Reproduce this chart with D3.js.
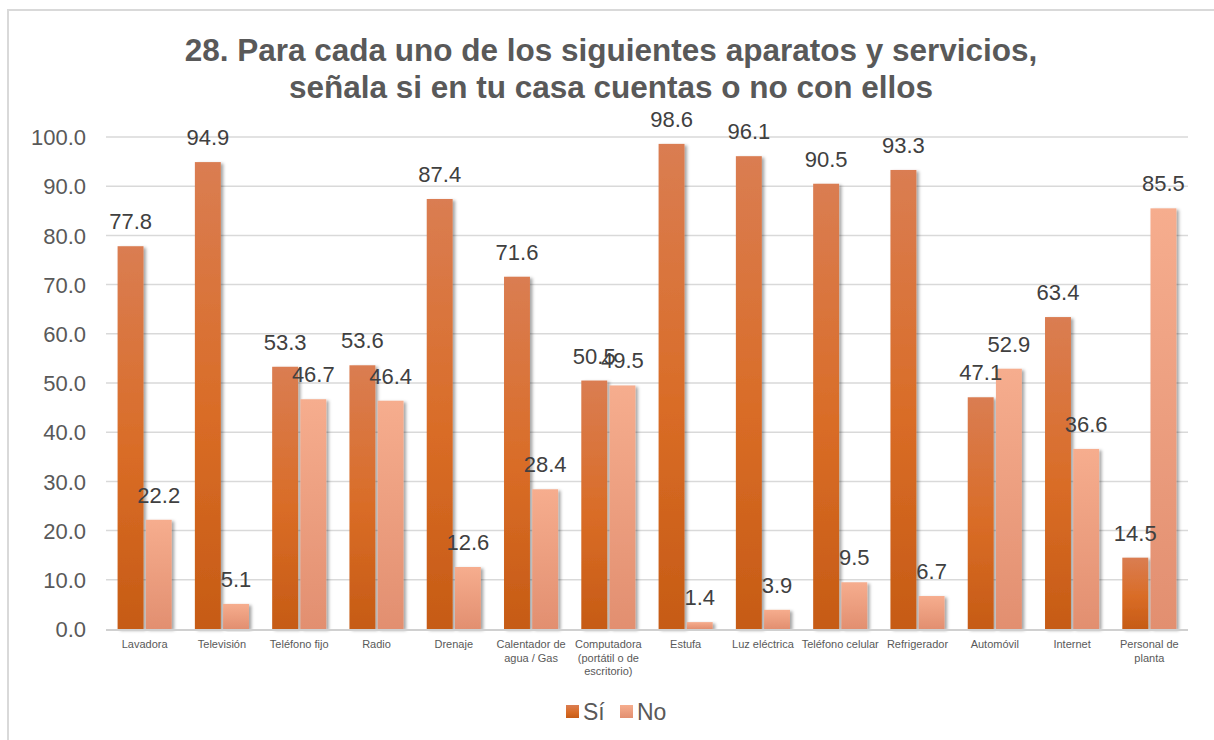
<!DOCTYPE html>
<head>
  <meta charset="utf-8">
  <script src="https://cdn.jsdelivr.net/npm/d3@7"></script>
  <style>
    body { margin:0; background:#fff; }
    text { font-family: "Liberation Sans", Arial, sans-serif; }
  </style>
</head>
<body>
<script>
var categories = ["Lavadora", "Televisión", "Teléfono fijo", "Radio", "Drenaje",
  "Calentador de|agua / Gas", "Computadora|(portátil o de|escritorio)", "Estufa",
  "Luz eléctrica", "Teléfono celular", "Refrigerador", "Automóvil", "Internet",
  "Personal de|planta"];
var si = [77.8, 94.9, 53.3, 53.6, 87.4, 71.6, 50.5, 98.6, 96.1, 90.5, 93.3, 47.1, 63.4, 14.5];
var no = [22.2, 5.1, 46.7, 46.4, 12.6, 28.4, 49.5, 1.4, 3.9, 9.5, 6.7, 52.9, 36.6, 85.5];
var seriesNames = ["Sí", "No"];
var yTicks = [0, 10, 20, 30, 40, 50, 60, 70, 80, 90, 100];
var titleLines = ["28. Para cada uno de los siguientes aparatos y servicios,",
  "señala si en tu casa cuentas o no con ellos"];

var width = 1214, height = 740;
var svg = d3.select("body").append("svg")
  .attr("width", width).attr("height", height);

var defs = svg.append("defs");
var g1 = defs.append("linearGradient").attr("id", "gSi")
  .attr("x1", 0).attr("y1", 0).attr("x2", 0).attr("y2", 1);
g1.append("stop").attr("offset", "0%").attr("stop-color", "#da7d52");
g1.append("stop").attr("offset", "55%").attr("stop-color", "#d96c26");
g1.append("stop").attr("offset", "100%").attr("stop-color", "#c65b15");
var g2 = defs.append("linearGradient").attr("id", "gNo")
  .attr("x1", 0).attr("y1", 0).attr("x2", 0).attr("y2", 1);
g2.append("stop").attr("offset", "0%").attr("stop-color", "#f6ad8e");
g2.append("stop").attr("offset", "100%").attr("stop-color", "#e28f70");

var shadow = defs.append("filter").attr("id", "shadow")
  .attr("x", "-30%").attr("y", "-10%").attr("width", "170%").attr("height", "120%");
shadow.append("feDropShadow").attr("dx", 2.5).attr("dy", 1.5)
  .attr("stdDeviation", 1.8).attr("flood-color", "#000").attr("flood-opacity", 0.35);

// frame
svg.append("line").attr("x1", 7).attr("y1", 10).attr("x2", 1214).attr("y2", 10)
  .attr("stroke", "#d9d9d9").attr("stroke-width", 2);
svg.append("line").attr("x1", 8).attr("y1", 10).attr("x2", 8).attr("y2", 740)
  .attr("stroke", "#d9d9d9").attr("stroke-width", 2);

// title
svg.append("g").selectAll("text").data(titleLines).enter().append("text")
  .attr("x", 611).attr("y", function(d, i) { return 61 + i * 37; })
  .attr("text-anchor", "middle")
  .attr("font-size", 31.5).attr("font-weight", "bold").attr("fill", "#595959")
  .text(function(d) { return d; });

var x0 = d3.scaleBand().domain(categories).range([106, 1188])
  .paddingInner(0.3).paddingOuter(0.15);
var x1 = d3.scaleBand().domain(seriesNames).range([0, x0.bandwidth()]).paddingInner(0.08);
var y = d3.scaleLinear().domain([0, 100]).range([629, 137]);

// grid
svg.append("g").selectAll("line").data(yTicks.slice(1)).enter().append("line")
  .attr("x1", 106).attr("x2", 1188)
  .attr("y1", function(d) { return y(d); }).attr("y2", function(d) { return y(d); })
  .attr("stroke", "#d9d9d9").attr("stroke-width", 1.5);

// y axis labels
var yAxis = svg.append("g").attr("transform", "translate(86,0)")
  .call(d3.axisLeft(y).tickValues(yTicks).tickSize(0).tickPadding(0)
    .tickFormat(d3.format(".1f")));
yAxis.select(".domain").remove();
yAxis.selectAll("text").attr("font-size", 22).attr("fill", "#595959")
  .attr("font-family", "Liberation Sans, Arial, sans-serif").attr("dy", "0.35em");

var rows = categories.map(function(c, i) { return { cat: c, vals: [si[i], no[i]] }; });

var groups = svg.append("g").selectAll("g").data(rows).enter().append("g")
  .attr("transform", function(d) { return "translate(" + x0(d.cat) + ",0)"; });

groups.selectAll("rect").data(function(d) {
    return d.vals.map(function(v, k) { return { s: seriesNames[k], v: v }; });
  }).enter().append("rect")
  .attr("x", function(d) { return x1(d.s); })
  .attr("y", function(d) { return y(d.v); })
  .attr("width", x1.bandwidth())
  .attr("height", function(d) { return y(0) - y(d.v); })
  .attr("fill", function(d) { return d.s === "Sí" ? "url(#gSi)" : "url(#gNo)"; })
  .attr("filter", "url(#shadow)");

groups.selectAll("text.lbl").data(function(d) {
    return d.vals.map(function(v, k) { return { s: seriesNames[k], v: v }; });
  }).enter().append("text").attr("class", "lbl")
  .attr("x", function(d) { return x1(d.s) + x1.bandwidth() / 2; })
  .attr("y", function(d) { return y(d.v) - 17; })
  .attr("text-anchor", "middle").attr("font-size", 22).attr("fill", "#404040")
  .text(function(d) { return d3.format(".1f")(d.v); });

// x axis
svg.append("line").attr("x1", 106).attr("x2", 1188).attr("y1", 630).attr("y2", 630)
  .attr("stroke", "#d0d0d0").attr("stroke-width", 2);

var xl = svg.append("g").selectAll("text").data(categories).enter().append("text")
  .attr("x", function(d) { return x0(d) + x0.bandwidth() / 2; })
  .attr("y", 648)
  .attr("text-anchor", "middle").attr("font-size", 11).attr("fill", "#595959");
xl.selectAll("tspan").data(function(d) { return d.split("|"); }).enter().append("tspan")
  .attr("x", function() { var p = this.parentNode; return p.getAttribute("x"); })
  .attr("dy", function(d, i) { return i === 0 ? 0 : 13.5; })
  .text(function(d) { return d; });

// legend
var legend = svg.append("g");
var legX = [566, 620];
seriesNames.forEach(function(s, i) {
  legend.append("rect").attr("x", legX[i]).attr("y", 705).attr("width", 13).attr("height", 13)
    .attr("fill", i === 0 ? "url(#gSi)" : "url(#gNo)");
  legend.append("text").attr("x", legX[i] + 17).attr("y", 720)
    .attr("font-size", 23).attr("fill", "#595959").text(s);
});
</script>
</body>
